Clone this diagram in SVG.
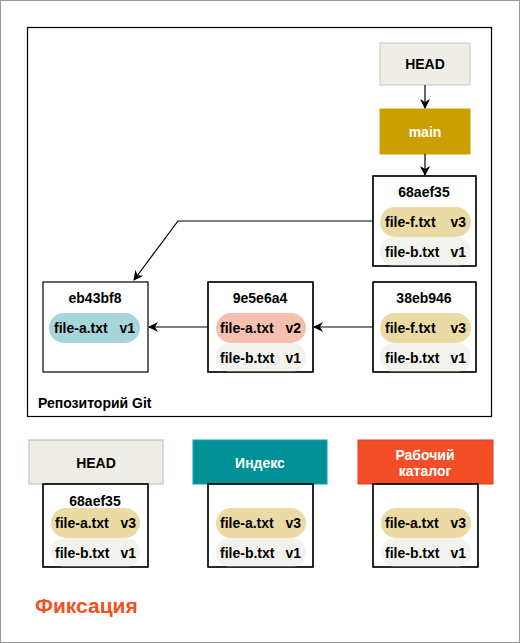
<svg xmlns="http://www.w3.org/2000/svg" width="520" height="643" viewBox="0 0 520 643">
<defs>
<marker id="arr" viewBox="0 0 10 10" refX="9" refY="5" markerWidth="10" markerHeight="10" markerUnits="userSpaceOnUse" orient="auto">
<path d="M0,0 L10,5 L0,10 L3,5 z" fill="#000"/>
</marker>
<style>
text{font-family:"Liberation Sans",Arial,sans-serif;font-weight:bold;font-size:14px;fill:#000}
.box{fill:#fff;stroke:#000;stroke-width:1.2}
.frame{fill:none;stroke:#000;stroke-width:1.2}
.t{text-anchor:middle}
.r{text-anchor:end}
.pt{fill:#ecdaa5}
.pp{fill:#f7bfae}
.pb{fill:#a6d6da}
.pl{fill:#f3f3ee}
.w{fill:#fff}
.conn{fill:none;stroke:#000;stroke-width:1.2;marker-end:url(#arr)}
</style>
</defs>
<rect x="0.5" y="0.5" width="519" height="642" fill="#fff" stroke="#9a9a9a"/>
<g id="repo">
<rect x="27.5" y="27.5" width="464" height="389" fill="none" stroke="#000" stroke-width="1.2"/>
<text x="38" y="408">Репозиторий Git</text>
</g>
<g id="head">
<rect x="380" y="43" width="90" height="42" fill="#efeee6" stroke="#c8c8c0"/>
<text class="t" x="425" y="69">HEAD</text>
</g>
<g id="main">
<rect x="380" y="109" width="90" height="45" fill="#cc9f00" stroke="#c9a800"/>
<text class="t w" x="425" y="137">main</text>
</g>
<g id="c68aef35">
<rect class="box" x="373" y="176" width="103" height="90"/>
<text class="t" x="424" y="197">68aef35</text>
<rect class="pt" x="380" y="207" width="91" height="30" rx="15"/>
<text x="385" y="227">file-f.txt</text><text class="r" x="466" y="227">v3</text>
<rect class="pl" x="380" y="237" width="91" height="29" rx="14"/>
<text x="385" y="257">file-b.txt</text><text class="r" x="466" y="257">v1</text>
<rect class="frame" x="373" y="176" width="103" height="90"/>
</g>
<g id="c38eb946">
<rect class="box" x="373" y="282" width="103" height="90"/>
<text class="t" x="424" y="303">38eb946</text>
<rect class="pt" x="380" y="313" width="91" height="30" rx="15"/>
<text x="385" y="333">file-f.txt</text><text class="r" x="466" y="333">v3</text>
<rect class="pl" x="380" y="343" width="91" height="29" rx="14"/>
<text x="385" y="363">file-b.txt</text><text class="r" x="466" y="363">v1</text>
<rect class="frame" x="373" y="282" width="103" height="90"/>
</g>
<g id="c9e5e6a4">
<rect class="box" x="208" y="282" width="105" height="90"/>
<text class="t" x="260" y="303">9e5e6a4</text>
<rect class="pp" x="216" y="313" width="90" height="30" rx="15"/>
<text x="220" y="333">file-a.txt</text><text class="r" x="301" y="333">v2</text>
<rect class="pl" x="216" y="343" width="90" height="29" rx="14"/>
<text x="220" y="363">file-b.txt</text><text class="r" x="301" y="363">v1</text>
<rect class="frame" x="208" y="282" width="105" height="90"/>
</g>
<g id="ceb43bf8">
<rect class="box" x="43" y="282" width="105" height="90"/>
<text class="t" x="95" y="303">eb43bf8</text>
<rect class="pb" x="49" y="313" width="91" height="30" rx="15"/>
<text x="54" y="333">file-a.txt</text><text class="r" x="135" y="333">v1</text>
</g>
<g id="connectors">
<path class="conn" d="M425,85 V108"/>
<path class="conn" d="M425,154 V175"/>
<path class="conn" d="M373,221 H178 L134,280"/>
<path class="conn" d="M373,327 H314"/>
<path class="conn" d="M208,327 H149"/>
</g>
<g id="headArea">
<rect x="29" y="440" width="134" height="44" fill="#efeee6" stroke="#b8b8b0"/>
<text class="t" x="96" y="468">HEAD</text>
<rect class="box" x="43" y="484" width="105" height="83"/>
<text class="t" x="95" y="506">68aef35</text>
<rect class="pt" x="51" y="508" width="89" height="30" rx="15"/>
<text x="55" y="528">file-a.txt</text><text class="r" x="136" y="528">v3</text>
<rect class="pl" x="51" y="538" width="89" height="29" rx="14"/>
<text x="55" y="558">file-b.txt</text><text class="r" x="136" y="558">v1</text>
<rect class="frame" x="43" y="484" width="105" height="83"/>
</g>
<g id="index">
<rect x="193" y="440" width="134" height="44" fill="#009096" stroke="#00a8ae"/>
<text class="t w" x="260" y="468">Индекс</text>
<rect class="box" x="208" y="484" width="105" height="83"/>
<rect class="pt" x="216" y="508" width="90" height="30" rx="15"/>
<text x="220" y="528">file-a.txt</text><text class="r" x="301" y="528">v3</text>
<rect class="pl" x="216" y="538" width="90" height="29" rx="14"/>
<text x="220" y="558">file-b.txt</text><text class="r" x="301" y="558">v1</text>
<rect class="frame" x="208" y="484" width="105" height="83"/>
</g>
<g id="workdir">
<rect x="358" y="440" width="135" height="44" fill="#f44e29" stroke="#d9401f"/>
<text class="t w" x="425" y="460">Рабочий</text>
<text class="t w" x="425" y="476">каталог</text>
<rect class="box" x="373" y="484" width="105" height="83"/>
<rect class="pt" x="381" y="508" width="90" height="30" rx="15"/>
<text x="385" y="528">file-a.txt</text><text class="r" x="466" y="528">v3</text>
<rect class="pl" x="381" y="538" width="90" height="29" rx="14"/>
<text x="385" y="558">file-b.txt</text><text class="r" x="466" y="558">v1</text>
<rect class="frame" x="373" y="484" width="105" height="83"/>
</g>
<text x="35" y="613" style="font-size:21px;fill:#f4511e">Фиксация</text>
</svg>
